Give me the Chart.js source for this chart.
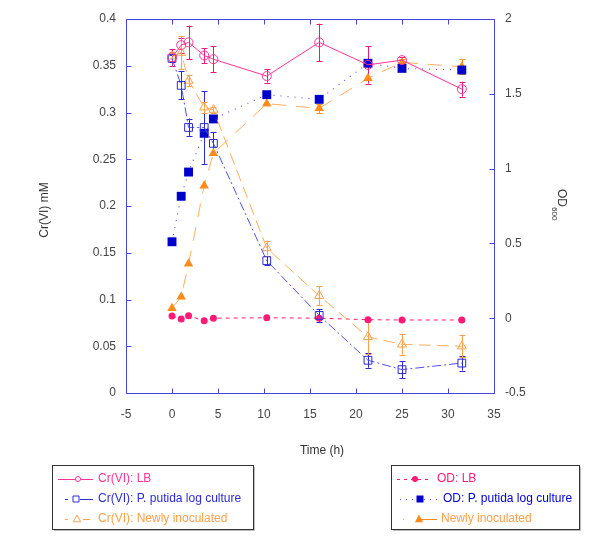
<!DOCTYPE html>
<html><head><meta charset="utf-8">
<script src="https://cdn.jsdelivr.net/npm/chart.js@4.4.1/dist/chart.umd.min.js"></script>
<style>html,body{margin:0;padding:0;background:#fff}#wrap{width:600px;height:544px}</style>
</head><body><div id="wrap"><canvas id="c" width="600" height="544"></canvas></div>
<script>
// ---- data ----
const times = [0, 1, 1.8, 3.5, 4.5, 10.3, 16, 21.3, 25, 31.5];
const crLB        = [0.359, 0.372, 0.375, 0.361, 0.357, 0.339, 0.375, 0.351, 0.356, 0.325];
const crLBErr     = [0.009, 0.008, 0.018, 0.008, 0.014, 0.007, 0.020, 0.020, 0.003, 0.008];
const crPutida    = [0.358, 0.329, 0.284, 0.284, 0.267, 0.1415, 0.083, 0.035, 0.025, 0.032];
const crPutidaErr = [0.004, 0.015, 0.0095, 0.039, 0.012, 0.005, 0.007, 0.008, 0.009, 0.008];
const crNewly     = [0.360, 0.364, 0.334, 0.3055, 0.303, 0.155, 0.104, 0.060, 0.052, 0.050];
const crNewlyErr  = [0.005, 0.018, 0.006, 0.006, 0.003, 0.008, 0.010, 0.018, 0.011, 0.012];
const odLB        = [0.015, -0.005, 0.017, -0.017, 0.0, 0.003, 0.0, -0.01, -0.012, -0.012];
const odPutida    = [0.511, 0.815, 0.977, 1.236, 1.332, 1.494, 1.463, 1.704, 1.670, 1.659];
const odNewly     = [0.066, 0.144, 0.364, 0.886, 1.102, 1.434, 1.403, 1.604, 1.710, 1.681];
const odNewlyErr  = [0, 0, 0, 0, 0, 0, 0.03, 0, 0.02, 0.05];
const xTickLabels  = ['-5', '0', '5', '10', '15', '20', '25', '30', '35'];
const yTickLabels  = ['0', '0.05', '0.1', '0.15', '0.2', '0.25', '0.3', '0.35', '0.4'];
const y2TickLabels = ['-0.5', '0', '0.5', '1', '1.5', '2'];
const legendLeft  = ['Cr(VI): LB', 'Cr(VI): P. putida log culture', 'Cr(VI): Newly inoculated'];
const legendRight = ['OD: LB', 'OD: P. putida log culture', 'Newly inoculated'];

const AXIS = '#4545dc';
const FONT = '"Liberation Sans", Arial, sans-serif';
const pts = arr => times.map((t, i) => ({x: t, y: arr[i]}));

const C = {
  pink: '#ff3399', pinkErr: '#e8197f', odPink: '#ff1a75',
  blue: '#2b2bd6', blueLine: '#5050ee', odBlue: '#0000cc', odBlueLine: '#5a5aff',
  orange: '#ffa04a', orangeLine: '#ffae5e', odOrange: '#ff8c1a'
};

const datasets = [
  {label: legendLeft[0], data: pts(crLB), errors: crLBErr, errColor: C.pinkErr, yAxisID: 'y',
   borderColor: C.pink, borderWidth: 1, pointStyle: 'circle', pointRadius: 4.5,
   pointBorderColor: C.pink, pointBackgroundColor: 'rgba(0,0,0,0)', pointBorderWidth: 1},
  {label: legendLeft[1], data: pts(crPutida), errors: crPutidaErr, errColor: C.blue, yAxisID: 'y',
   borderColor: C.blueLine, borderWidth: 1, borderDash: [9, 3, 2, 3], pointStyle: 'rect', pointRadius: 5.5,
   pointBorderColor: C.blue, pointBackgroundColor: 'rgba(0,0,0,0)', pointBorderWidth: 1},
  {label: legendLeft[2], data: pts(crNewly), errors: crNewlyErr, errColor: C.orange, yAxisID: 'y',
   borderColor: C.orangeLine, borderWidth: 1, borderDash: [12, 6], pointStyle: 'triangle', pointRadius: 5.2,
   pointBorderColor: C.orange, pointBackgroundColor: 'rgba(0,0,0,0)', pointBorderWidth: 1},
  {label: legendRight[0], data: pts(odLB), yAxisID: 'y2',
   borderColor: C.odPink, borderWidth: 1, borderDash: [4, 4], pointStyle: 'circle', pointRadius: 3.5,
   pointBorderColor: C.odPink, pointBackgroundColor: C.odPink, pointBorderWidth: 0},
  {label: legendRight[1], data: pts(odPutida), yAxisID: 'y2',
   borderColor: C.odBlueLine, borderWidth: 1.2, borderDash: [1, 6], pointStyle: 'rect', pointRadius: 6.3,
   pointBorderColor: C.odBlue, pointBackgroundColor: C.odBlue, pointBorderWidth: 0},
  {label: legendRight[2], data: pts(odNewly), errors: odNewlyErr, errColor: C.odOrange, yAxisID: 'y2',
   borderColor: C.orangeLine, borderWidth: 1, borderDash: [14, 10], pointStyle: 'triangle', pointRadius: 5.5,
   pointBorderColor: C.odOrange, pointBackgroundColor: C.odOrange, pointBorderWidth: 0}
];

const framePlugin = {
  id: 'frame',
  beforeDatasetsDraw(chart) {
    const {ctx, chartArea: a, scales} = chart;
    ctx.save();
    ctx.strokeStyle = AXIS; ctx.lineWidth = 1;
    ctx.beginPath();
    const L = Math.round(a.left) + 0.5, R = Math.round(a.right) + 0.5, T = Math.round(a.top) + 0.5, B = Math.round(a.bottom) + 0.5;
    ctx.rect(L, T, R - L, B - T);
    scales.x.ticks.forEach(t => {
      const px = Math.round(scales.x.getPixelForValue(t.value)) + 0.5;
      ctx.moveTo(px, B); ctx.lineTo(px, B - 5);
      ctx.moveTo(px, T); ctx.lineTo(px, T + 5);
    });
    scales.y.ticks.forEach(t => {
      const py = Math.round(scales.y.getPixelForValue(t.value)) + 0.5;
      ctx.moveTo(L, py); ctx.lineTo(L + 5, py);
    });
    scales.y2.ticks.forEach(t => {
      const py = Math.round(scales.y2.getPixelForValue(t.value)) + 0.5;
      ctx.moveTo(R, py); ctx.lineTo(R - 5, py);
    });
    ctx.stroke();
    // error bars
    chart.data.datasets.forEach(ds => {
      if (!ds.errors) return;
      const ys = scales[ds.yAxisID];
      ctx.strokeStyle = ds.errColor; ctx.lineWidth = 1; ctx.setLineDash([]);
      ctx.beginPath();
      ds.data.forEach((p, i) => {
        const e = ds.errors[i];
        if (!e) return;
        const px = Math.round(scales.x.getPixelForValue(p.x)) + 0.5;
        const y1 = ys.getPixelForValue(p.y - e), y2 = ys.getPixelForValue(p.y + e);
        ctx.moveTo(px, y1); ctx.lineTo(px, y2);
        ctx.moveTo(px - 3, Math.round(y1) + 0.5); ctx.lineTo(px + 3, Math.round(y1) + 0.5);
        ctx.moveTo(px - 3, Math.round(y2) + 0.5); ctx.lineTo(px + 3, Math.round(y2) + 0.5);
      });
      ctx.stroke();
    });
    ctx.restore();
  },
  afterDraw(chart) {
    const {ctx, chartArea: a} = chart;
    ctx.save();
    ctx.fillStyle = '#333';
    // x title
    ctx.font = '12px ' + FONT;
    ctx.textAlign = 'center'; ctx.textBaseline = 'middle';
    ctx.fillText('Time (h)', 322, 451);
    // left title
    ctx.save();
    ctx.translate(48, 210); ctx.rotate(-Math.PI / 2);
    ctx.textAlign = 'center'; ctx.textBaseline = 'alphabetic';
    ctx.fillText('Cr(VI) mM', 0, 0);
    ctx.restore();
    // right title
    ctx.save();
    ctx.translate(558, 189); ctx.rotate(Math.PI / 2);
    ctx.textAlign = 'left'; ctx.textBaseline = 'alphabetic';
    ctx.fillText('OD', 0, 0);
    const w = ctx.measureText('OD').width;
    ctx.font = '8px ' + FONT;
    ctx.fillText('600', w, 6);
    ctx.restore();

    // legend boxes
    function box(x, y, w, h) {
      ctx.strokeStyle = '#bbb'; ctx.lineWidth = 1; ctx.setLineDash([]);
      ctx.beginPath(); ctx.moveTo(x + 2, y + h + 1.5); ctx.lineTo(x + w + 1.5, y + h + 1.5); ctx.lineTo(x + w + 1.5, y + 2); ctx.stroke();
      ctx.strokeStyle = '#333';
      ctx.strokeRect(x + 0.5, y + 0.5, w, h);
    }
    function marker(style, x, y, r, fill, stroke) {
      ctx.setLineDash([]);
      ctx.beginPath();
      if (style === 'circle') ctx.arc(x, y, r, 0, Math.PI * 2);
      else if (style === 'rect') ctx.rect(x - r, y - r, 2 * r, 2 * r);
      else { ctx.moveTo(x, y - r); ctx.lineTo(x + r * 0.9, y + r * 0.7); ctx.lineTo(x - r * 0.9, y + r * 0.7); ctx.closePath(); }
      if (fill) { ctx.fillStyle = fill; ctx.fill(); }
      if (stroke) { ctx.strokeStyle = stroke; ctx.lineWidth = 1; ctx.stroke(); }
    }
    function seg(x1, x2, y, color, dash, lw) {
      ctx.strokeStyle = color; ctx.lineWidth = lw || 1; ctx.setLineDash(dash);
      ctx.beginPath(); ctx.moveTo(x1, y + 0.5); ctx.lineTo(x2, y + 0.5); ctx.stroke();
    }
    box(52, 465, 201, 64);
    box(391, 465, 188, 64);
    const rows = [479, 499, 519];
    ctx.font = '12px ' + FONT; ctx.textAlign = 'left'; ctx.textBaseline = 'middle';
    // left legend
    seg(58, 93, rows[0], C.pink, []); marker('circle', 78, rows[0], 2.5, '#fff', C.pink);
    ctx.fillStyle = C.pink; ctx.fillText(legendLeft[0], 98, rows[0]);
    seg(65, 68, rows[1], C.blue, []); seg(80, 93, rows[1], C.blue, []); marker('rect', 76, rows[1], 3, null, C.blue);
    ctx.fillStyle = C.blue; ctx.fillText(legendLeft[1], 98, rows[1]);
    seg(65, 68, rows[2], C.orange, []); seg(83, 90, rows[2], C.orange, []); marker('tri', 77, rows[2], 4, null, C.orange);
    ctx.fillStyle = C.orange; ctx.fillText(legendLeft[2], 98, rows[2]);
    // right legend
    seg(397, 432, rows[0], C.odPink, [3, 4]); marker('circle', 415, rows[0], 3, C.odPink, null);
    ctx.fillStyle = C.odPink; ctx.fillText(legendRight[0], 437, rows[0]);
    seg(400, 438, rows[1], C.odBlueLine, [1, 5]); marker('rect', 420, rows[1], 3.5, C.odBlue, null);
    ctx.fillStyle = C.odBlue; ctx.fillText(legendRight[1], 443, rows[1]);
    seg(403, 404, rows[2], C.orangeLine, []); seg(419, 437, rows[2], C.odOrange, []); marker('tri', 419, rows[2], 4.5, C.odOrange, null);
    ctx.fillStyle = C.orange; ctx.fillText(legendRight[2], 441, rows[2]);
    ctx.restore();
  }
};

const tickFont = {family: FONT, size: 12};
new Chart(document.getElementById('c'), {
  type: 'scatter',
  data: {datasets: datasets.map(d => Object.assign({showLine: true, fill: false, tension: 0}, d))},
  options: {
    responsive: false, animation: false, devicePixelRatio: 1,
    layout: {padding: {top: 19, left: 0, right: 0, bottom: 0}},
    plugins: {legend: {display: false}, tooltip: {enabled: false}},
    scales: {
      x: {type: 'linear', min: -5, max: 35, position: 'bottom',
          ticks: {stepSize: 5, padding: 14, color: '#444', font: tickFont, maxRotation: 0,
                  callback: (v, i) => xTickLabels[i]},
          grid: {display: false, drawTicks: false}, border: {display: false},
          afterFit: s => { s.height = 151; }},
      y: {type: 'linear', min: 0, max: 0.4, position: 'left',
          ticks: {stepSize: 0.05, padding: 10, color: '#444', font: tickFont,
                  callback: (v, i) => yTickLabels[i]},
          grid: {display: false, drawTicks: false}, border: {display: false},
          afterFit: s => { s.width = 126; }},
      y2: {type: 'linear', min: -0.5, max: 2, position: 'right',
          ticks: {stepSize: 0.5, padding: 11, color: '#444', font: tickFont,
                  callback: (v, i) => y2TickLabels[i]},
          grid: {display: false, drawTicks: false}, border: {display: false},
          afterFit: s => { s.width = 106; }}
    }
  },
  plugins: [framePlugin]
});
</script></body></html>
